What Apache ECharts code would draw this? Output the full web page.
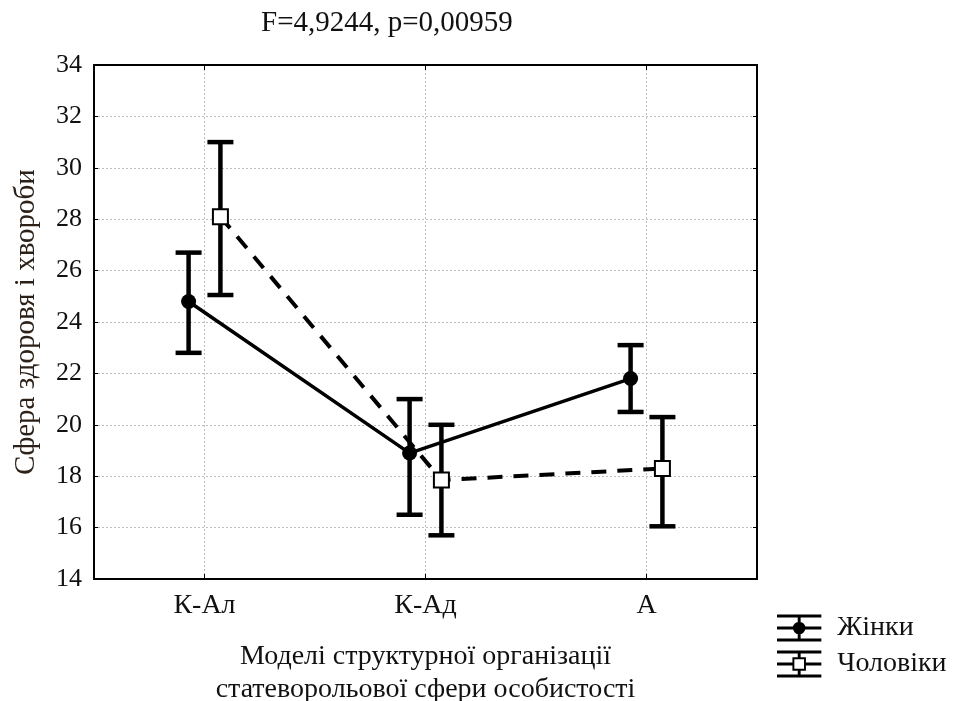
<!DOCTYPE html>
<html>
<head>
<meta charset="utf-8">
<title>Сфера здоровя і хвороби</title>
<script src="https://cdn.jsdelivr.net/npm/echarts@6/dist/echarts.min.js"></script>
<style>
  html, body { margin: 0; padding: 0; background: #fff; }
  #chart { width: 955px; height: 701px; }
</style>
</head>
<body>
<div id="chart"></div>
<script>
// Group categories and their positions on the x scale
const categories = ['К-Ал', 'К-Ад', 'А'];
const categoryPos = [1, 2, 3];

// Жінки: means and confidence limits
const womenMean = [24.8, 18.9, 21.8];
const womenLow  = [22.8, 16.5, 20.5];
const womenHigh = [26.7, 21.0, 23.1];

// Чоловіки: means and confidence limits
const menMean = [28.1, 17.85, 18.3];
const menLow  = [25.05, 15.7, 16.05];
const menHigh = [31.0, 20.0, 20.3];

// Y axis range and step
const yMin = 14, yMax = 34, yStep = 2;

// Horizontal offset of each group from its category centre (axis units)
const womenShift = -0.072;
const menShift = 0.072;

const serif = 'Liberation Serif, "Times New Roman", serif';

function points(means, shift) {
  return means.map((m, i) => [categoryPos[i] + shift, m]);
}
function ranges(lows, highs, shift) {
  return lows.map((lo, i) => [categoryPos[i] + shift, lo, highs[i]]);
}

// Vertical whisker with caps at both ends
function renderWhisker(params, api) {
  const x = api.value(0);
  const pLo = api.coord([x, api.value(1)]);
  const pHi = api.coord([x, api.value(2)]);
  const half = 13;
  const style = { stroke: '#000', lineWidth: 4.5, fill: null };
  return {
    type: 'group',
    children: [
      { type: 'line', shape: { x1: pLo[0], y1: pLo[1], x2: pHi[0], y2: pHi[1] }, style },
      { type: 'line', shape: { x1: pHi[0] - half, y1: pHi[1], x2: pHi[0] + half, y2: pHi[1] }, style },
      { type: 'line', shape: { x1: pLo[0] - half, y1: pLo[1], x2: pLo[0] + half, y2: pLo[1] }, style }
    ]
  };
}

// Legend glyphs: whisker with a filled dot / hollow square
const womenIcon = 'path://M0 0H46V3H0Z M0 12.5H46V15.5H0Z M0 25H46V28H0Z M21.5 0H24.5V28H21.5Z ' +
  'M16.5 14A6.5 6.5 0 1 1 29.5 14A6.5 6.5 0 1 1 16.5 14Z';
const menIcon = 'path://M0 0H46V3H0Z M0 25H46V28H0Z M0 12.5H16V15.5H0Z M30 12.5H46V15.5H30Z ' +
  'M21.5 0H24.5V7H21.5Z M21.5 21H24.5V28H21.5Z M16 7H30V21H16Z M18 9V19H28V9Z';

const gridLine = { show: true, lineStyle: { color: '#bdbdbd', width: 1, type: [2, 2] } };
const frameLine = { show: true, lineStyle: { color: '#000', width: 2 } };

const chart = echarts.init(document.getElementById('chart'), null, { renderer: 'canvas' });

chart.setOption({
  animation: false,
  backgroundColor: '#fff',
  title: {
    text: 'F=4,9244, p=0,00959',
    left: 256,
    top: 4,
    textStyle: { fontFamily: serif, fontSize: 29, fontWeight: 'normal', color: '#111' }
  },
  grid: { left: 94, right: 198, top: 65, bottom: 122, containLabel: false, outerBoundsMode: 'none' },
  legend: {
    orient: 'vertical',
    left: 772,
    top: 609,
    itemWidth: 46,
    itemHeight: 27,
    itemGap: 8,
    itemStyle: { color: '#000', borderWidth: 0 },
    textStyle: { fontFamily: serif, fontSize: 28, color: '#111', padding: [0, 0, 0, 10] },
    data: [
      { name: 'Жінки', icon: womenIcon },
      { name: 'Чоловіки', icon: menIcon }
    ]
  },
  xAxis: [
    {
      type: 'value',
      position: 'bottom',
      min: 0.5,
      max: 3.5,
      axisLine: frameLine,
      axisTick: { show: true, inside: true, length: 5, customValues: categoryPos, lineStyle: { color: '#000', width: 1 } },
      axisLabel: {
        customValues: categoryPos,
        formatter: v => categories[categoryPos.indexOf(v)] || '',
        fontFamily: serif, fontSize: 28, color: '#111', margin: 13
      },
      splitLine: gridLine,
      name: 'Моделі структурної організації\nстатеворольової сфери особистості',
      nameLocation: 'middle',
      nameGap: 61,
      nameTextStyle: { fontFamily: serif, fontSize: 28, color: '#111', lineHeight: 33 }
    },
    {
      type: 'value',
      position: 'top',
      min: 0.5,
      max: 3.5,
      axisLine: frameLine,
      axisTick: { show: true, inside: true, length: 5, customValues: categoryPos, lineStyle: { color: '#000', width: 1 } },
      axisLabel: { show: false },
      splitLine: { show: false }
    }
  ],
  yAxis: [
    {
      type: 'value',
      position: 'left',
      min: yMin,
      max: yMax,
      interval: yStep,
      axisLine: frameLine,
      axisTick: { show: true, inside: true, length: 4, lineStyle: { color: '#000', width: 1 } },
      axisLabel: { fontFamily: serif, fontSize: 26, color: '#111', margin: 12 },
      splitLine: gridLine,
      name: 'Сфера здоровя і хвороби',
      nameLocation: 'middle',
      nameRotate: 90,
      nameGap: 53,
      nameTextStyle: { fontFamily: serif, fontSize: 29, color: '#2b2118' }
    },
    {
      type: 'value',
      position: 'right',
      min: yMin,
      max: yMax,
      interval: yStep,
      axisLine: frameLine,
      axisTick: { show: true, inside: true, length: 4, lineStyle: { color: '#000', width: 1 } },
      axisLabel: { show: false },
      splitLine: { show: false }
    }
  ],
  series: [
    {
      name: 'Жінки, інтервал',
      type: 'custom',
      renderItem: renderWhisker,
      encode: { x: 0, y: [1, 2] },
      data: ranges(womenLow, womenHigh, womenShift),
      z: 3,
      silent: true
    },
    {
      name: 'Чоловіки, інтервал',
      type: 'custom',
      renderItem: renderWhisker,
      encode: { x: 0, y: [1, 2] },
      data: ranges(menLow, menHigh, menShift),
      z: 3,
      silent: true
    },
    {
      name: 'Жінки',
      type: 'line',
      data: points(womenMean, womenShift),
      symbol: 'circle',
      symbolSize: 15,
      itemStyle: { color: '#000' },
      lineStyle: { color: '#000', width: 3.5 },
      z: 4
    },
    {
      name: 'Чоловіки',
      type: 'line',
      data: points(menMean, menShift),
      symbol: 'rect',
      symbolSize: 15,
      itemStyle: { color: '#fff', borderColor: '#000', borderWidth: 2 },
      lineStyle: { color: '#000', width: 4, type: [15, 11] },
      z: 4
    }
  ]
});
</script>
</body>
</html>
